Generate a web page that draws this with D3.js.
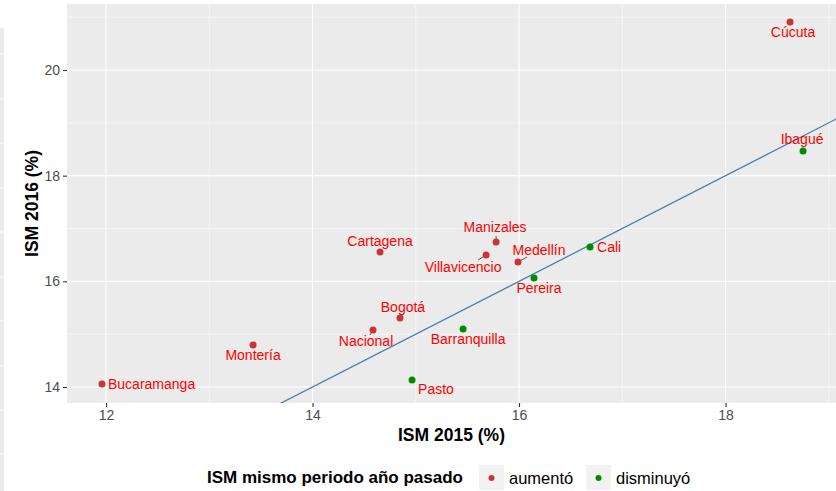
<!DOCTYPE html>
<html>
<head>
<meta charset="utf-8">
<script src="https://cdn.jsdelivr.net/npm/d3@7"></script>
<style>
  html, body { margin: 0; padding: 0; background: #fff; }
  svg { display: block; font-family: "Liberation Sans", Arial, sans-serif; }
</style>
</head>
<body>
<svg id="chart" width="836" height="491"></svg>
<script>
// ---- data ----
const cities   = ["Cúcuta","Ibagué","Cali","Manizales","Villavicencio","Medellín","Pereira","Cartagena","Bogotá","Nacional","Barranquilla","Pasto","Montería","Bucaramanga"];
const ism2015  = [18.625, 18.751, 16.688, 15.778, 15.681, 15.990, 16.145, 14.654, 14.847, 14.586, 15.458, 14.964, 13.424, 11.961];
const ism2016  = [20.909, 18.467, 16.650, 16.744, 16.498, 16.366, 16.063, 16.555, 15.306, 15.079, 15.098, 14.132, 14.795, 14.056];
const status   = ["aumentó","disminuyó","disminuyó","aumentó","aumentó","aumentó","disminuyó","aumentó","aumentó","aumentó","disminuyó","disminuyó","aumentó","aumentó"];
const xTicks   = [12, 14, 16, 18];
const yTicks   = [14, 16, 18, 20];
const legendKeys = ["aumentó", "disminuyó"];

// label placement (repel-like layout, px offsets from point)
const labelLayout = {
  "Cúcuta":        {dx: 3,   dy: 15, anchor: "middle"},
  "Ibagué":        {dx: -1,  dy: -7, anchor: "middle"},
  "Cali":          {dx: 7,   dy: 5,  anchor: "start"},
  "Manizales":     {dx: -1,  dy: -10, anchor: "middle", seg: [0, -6]},
  "Villavicencio": {dx: -23, dy: 17, anchor: "middle", seg: [-8, 5]},
  "Medellín":      {dx: 21,  dy: -7, anchor: "middle", seg: [9, -5]},
  "Pereira":       {dx: 5,   dy: 15, anchor: "middle"},
  "Cartagena":     {dx: 0,   dy: -6, anchor: "middle"},
  "Bogotá":        {dx: 3,   dy: -6, anchor: "middle"},
  "Nacional":      {dx: -7,  dy: 16, anchor: "middle", seg: [-3, 5]},
  "Barranquilla":  {dx: 5,   dy: 15, anchor: "middle"},
  "Pasto":         {dx: 6,   dy: 14, anchor: "start"},
  "Montería":      {dx: 0,   dy: 15, anchor: "middle"},
  "Bucaramanga":   {dx: 6,   dy: 5,  anchor: "start"}
};

const data = cities.map((c, i) => ({city: c, x: ism2015[i], y: ism2016[i], s: status[i]}));

// ---- layout ----
const panel = {left: 67, top: 4, right: 836, bottom: 403};
const svg = d3.select("#chart");

const x = d3.scaleLinear().domain([11.622, 19.070]).range([panel.left, panel.right]);
const y = d3.scaleLinear().domain([13.697, 21.249]).range([panel.bottom, panel.top]);
const color = d3.scaleOrdinal().domain(legendKeys).range(["#CC3333", "#008B00"]);

// left-edge strip (remnant of adjacent panel)
svg.append("rect").attr("x", 0).attr("y", 28).attr("width", 4).attr("height", 463).attr("fill", "#EBEBEB");
[54, 99, 143, 188, 232, 277, 321, 366, 410, 454].forEach(v => {
  svg.append("line").attr("x1", 0).attr("x2", 4).attr("y1", v).attr("y2", v)
    .attr("stroke", "#fff").attr("stroke-width", 1);
});

// panel background
svg.append("rect")
  .attr("x", panel.left).attr("y", panel.top)
  .attr("width", panel.right - panel.left).attr("height", panel.bottom - panel.top)
  .attr("fill", "#EBEBEB");

svg.append("clipPath").attr("id", "clip").append("rect")
  .attr("x", panel.left).attr("y", panel.top)
  .attr("width", panel.right - panel.left).attr("height", panel.bottom - panel.top);

const g = svg.append("g").attr("clip-path", "url(#clip)");

// minor grid
const xMinor = [11, 13, 15, 17, 19];
const yMinor = [13, 15, 17, 19, 21];
g.selectAll(".xminor").data(xMinor).join("line")
  .attr("x1", d => x(d)).attr("x2", d => x(d)).attr("y1", panel.top).attr("y2", panel.bottom)
  .attr("stroke", "#fff").attr("stroke-width", 0.55);
g.selectAll(".yminor").data(yMinor).join("line")
  .attr("y1", d => y(d)).attr("y2", d => y(d)).attr("x1", panel.left).attr("x2", panel.right)
  .attr("stroke", "#fff").attr("stroke-width", 0.55);
// major grid
g.selectAll(".xmajor").data(xTicks).join("line")
  .attr("x1", d => x(d)).attr("x2", d => x(d)).attr("y1", panel.top).attr("y2", panel.bottom)
  .attr("stroke", "#fff").attr("stroke-width", 1.1);
g.selectAll(".ymajor").data(yTicks).join("line")
  .attr("y1", d => y(d)).attr("y2", d => y(d)).attr("x1", panel.left).attr("x2", panel.right)
  .attr("stroke", "#fff").attr("stroke-width", 1.1);

// identity line y = x
const lineDom = [11, 22];
g.append("line")
  .attr("x1", x(lineDom[0])).attr("y1", y(lineDom[0]))
  .attr("x2", x(lineDom[1])).attr("y2", y(lineDom[1]))
  .attr("stroke", "#4682B4").attr("stroke-width", 1.3);

// repel segments
data.forEach(d => {
  const L = labelLayout[d.city];
  if (L.seg) {
    g.append("line")
      .attr("x1", x(d.x)).attr("y1", y(d.y))
      .attr("x2", x(d.x) + L.seg[0]).attr("y2", y(d.y) + L.seg[1])
      .attr("stroke", "#555").attr("stroke-width", 1);
  }
});

// points
g.selectAll(".pt").data(data).join("circle")
  .attr("cx", d => x(d.x)).attr("cy", d => y(d.y)).attr("r", 3.5)
  .attr("fill", d => color(d.s));

// labels
svg.selectAll(".lbl").data(data).join("text")
  .attr("x", d => x(d.x) + labelLayout[d.city].dx)
  .attr("y", d => y(d.y) + labelLayout[d.city].dy)
  .attr("text-anchor", d => labelLayout[d.city].anchor)
  .attr("font-size", 14).attr("fill", "#FF0000")
  .text(d => d.city);

// axes
const xAxis = svg.append("g").attr("transform", `translate(0,${panel.bottom})`)
  .call(d3.axisBottom(x).tickValues(xTicks).tickSize(4).tickPadding(3).tickFormat(d3.format("d")));
const yAxis = svg.append("g").attr("transform", `translate(${panel.left},0)`)
  .call(d3.axisLeft(y).tickValues(yTicks).tickSize(4).tickPadding(3).tickFormat(d3.format("d")));
[xAxis, yAxis].forEach(a => {
  a.select(".domain").remove();
  a.selectAll(".tick line").attr("stroke", "#333").attr("stroke-width", 1.1);
  a.selectAll(".tick text").attr("fill", "#4D4D4D").attr("font-size", 14)
    .attr("font-family", "Liberation Sans, Arial, sans-serif");
});

// axis titles
svg.append("text").attr("x", (panel.left + panel.right) / 2).attr("y", 441)
  .attr("text-anchor", "middle").attr("font-size", 17.5).attr("font-weight", "bold").attr("fill", "#000")
  .text("ISM 2015 (%)");
svg.append("text").attr("transform", `translate(38,${(panel.top + panel.bottom) / 2}) rotate(-90)`)
  .attr("text-anchor", "middle").attr("font-size", 17.5).attr("font-weight", "bold").attr("fill", "#000")
  .text("ISM 2016 (%)");

// legend
const leg = svg.append("g");
leg.append("text").attr("x", 207).attr("y", 483).attr("font-size", 17).attr("font-weight", "bold")
  .attr("fill", "#000").text("ISM mismo periodo año pasado");
const keyX = [479, 586];
legendKeys.forEach((k, i) => {
  leg.append("rect").attr("x", keyX[i]).attr("y", 465).attr("width", 25).attr("height", 25).attr("fill", "#F2F2F2");
  leg.append("circle").attr("cx", keyX[i] + 12.5).attr("cy", 478).attr("r", 3).attr("fill", color(k));
  leg.append("text").attr("x", keyX[i] + 30).attr("y", 484).attr("font-size", 16.5).attr("fill", "#000").text(k);
});
</script>
</body>
</html>
